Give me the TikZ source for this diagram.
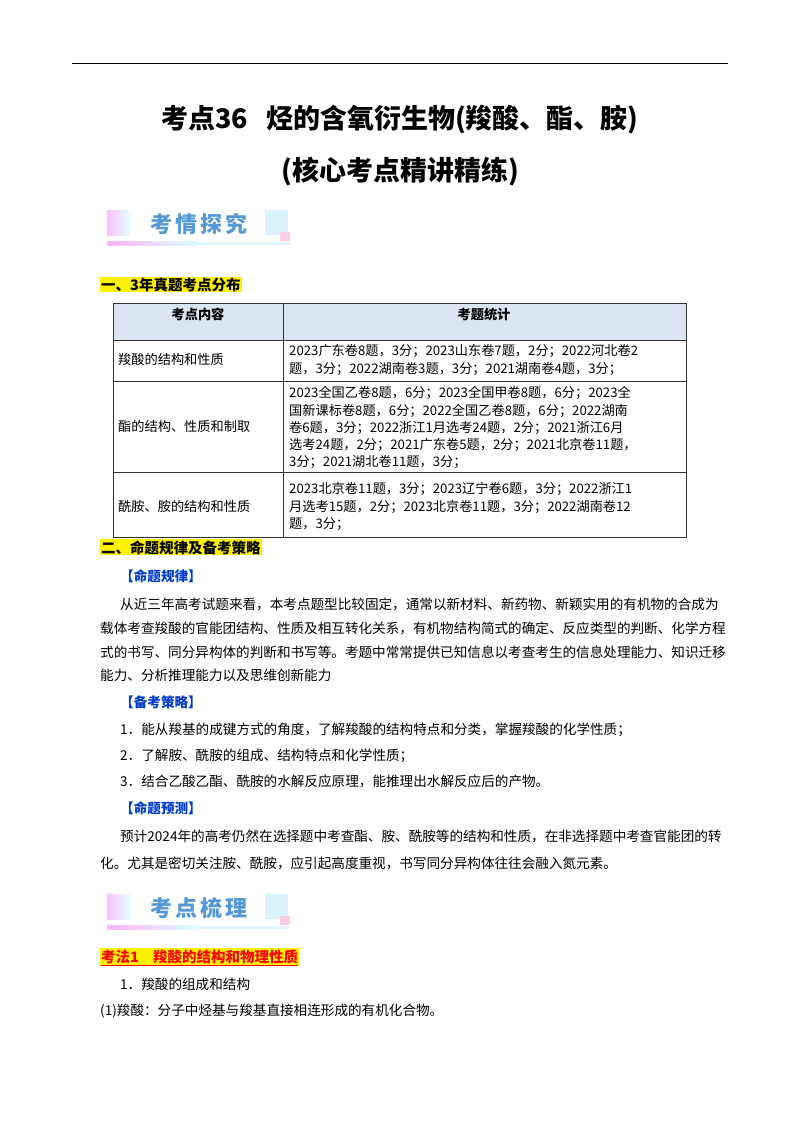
\documentclass[tikz,border=0pt]{standalone}
\usepackage{fontspec}
\setmainfont{Noto Sans CJK SC}
\definecolor{hdr}{HTML}{DBE5F1}
\begin{document}
\begin{tikzpicture}[x=1pt,y=-1pt,
  body/.style={anchor=base west,inner sep=0pt,font=\fontsize{13.6}{16}\selectfont},
  tb/.style={anchor=base west,inner sep=0pt,font=\fontsize{13.2}{15}\selectfont},
  hl/.style={anchor=base west,inner sep=1pt,fill=yellow,font=\bfseries\fontsize{14.5}{16}\selectfont},
  blue/.style={anchor=base west,inner sep=0pt,text=blue!70!cyan!80!black,font=\bfseries\fontsize{13.6}{16}\selectfont},
  bantext/.style={anchor=west,inner sep=0pt,text=cyan!60!blue!70,font=\bfseries\fontsize{22}{24}\selectfont},
  grid/.style={draw=black!80,line width=0.7pt}]
\useasboundingbox[fill=white] (0,0) rectangle (800,1132);
\draw[line width=1pt] (72,64) -- (728,64);
\node[inner sep=0pt,font=\bfseries\fontsize{27}{30}\selectfont] (t1) at (400,120) {考点36\hspace{18pt}烃的含氧衍生物(羧酸、酯、胺)};
\node[inner sep=0pt,font=\bfseries\fontsize{27}{30}\selectfont] (t2) at (400,172) {(核心考点精讲精练)};
% banners
\foreach \y/\t/\n in {210/考\hspace{3pt}情\hspace{3pt}探\hspace{3pt}究/b1, 894/考\hspace{3pt}点\hspace{3pt}梳\hspace{3pt}理/b2}{
  \shade[left color=magenta!25,right color=cyan!12] (107,\y) rectangle ++(23,25);
  \fill[cyan!15] (265,\y) rectangle ++(23,25);
  \fill[magenta!20] (280,\y+22) rectangle ++(10,9);
  \shade[left color=magenta!30,right color=cyan!15] (107,\y+31) rectangle ++(90,4);
  \fill[cyan!12] (197,\y+32) rectangle ++(93,3);
  \node[bantext] (\n) at (150,\y+14) {\t};
}
\node[hl] (h1) at (100,290) {一、3年真题考点分布};
% table
\fill[hdr] (113,303) rectangle (686,340);
\draw[grid] (113,303) rectangle (686,537);
\draw[grid] (283,303) -- (283,537);
\foreach \y in {340,381,472} \draw[grid] (113,\y) -- (686,\y);
\node[tb,font=\bfseries\fontsize{13.2}{15}\selectfont,anchor=base] (c1) at (198,319) {考点内容};
\node[tb,font=\bfseries\fontsize{13.2}{15}\selectfont,anchor=base] (c2) at (484,319) {考题统计};
\node[tb] (r1) at (118,364) {羧酸的结构和性质};
\node[tb] (r2) at (118,431) {酯的结构、性质和制取};
\node[tb] (r3) at (118,511) {酰胺、胺的结构和性质};
\node[tb] (a1) at (289,355) {2023广东卷8题，3分；2023山东卷7题，2分；2022河北卷2};
\node[tb] (a2) at (289,373) {题，3分；2022湖南卷3题，3分；2021湖南卷4题，3分；};
\node[tb] (b1l) at (289,397) {2023全国乙卷8题，6分；2023全国甲卷8题，6分；2023全};
\node[tb] (b2l) at (289,415) {国新课标卷8题，6分；2022全国乙卷8题，6分；2022湖南};
\node[tb] (b3l) at (289,432) {卷6题，3分；2022浙江1月选考24题，2分；2021浙江6月};
\node[tb] (b4l) at (289,449) {选考24题，2分；2021广东卷5题，2分；2021北京卷11题，};
\node[tb] (b5l) at (289,466) {3分；2021湖北卷11题，3分；};
\node[tb] (d1) at (289,493) {2023北京卷11题，3分；2023辽宁卷6题，3分；2022浙江1};
\node[tb] (d2) at (289,511) {月选考15题，2分；2023北京卷11题，3分；2022湖南卷12};
\node[tb] (d3) at (289,528) {题，3分；};
\node[hl] (h2) at (100,553) {二、命题规律及备考策略};
\node[blue] (k1) at (120,581) {【命题规律】};
\node[body] (p1) at (120,609) {从近三年高考试题来看，本考点题型比较固定，通常以新材料、新药物、新颖实用的有机物的合成为};
\node[body] (p2) at (100,633) {载体考查羧酸的官能团结构、性质及相互转化关系，有机物结构简式的确定、反应类型的判断、化学方程};
\node[body] (p3) at (100,657) {式的书写、同分异构体的判断和书写等。考题中常常提供已知信息以考查考生的信息处理能力、知识迁移};
\node[body] (p4) at (100,680) {能力、分析推理能力以及思维创新能力};
\node[blue] (k2) at (120,707) {【备考策略】};
\node[body] (s1) at (120,734) {1．能从羧基的成键方式的角度，了解羧酸的结构特点和分类，掌握羧酸的化学性质；};
\node[body] (s2) at (120,760) {2．了解胺、酰胺的组成、结构特点和化学性质；};
\node[body] (s3) at (120,786) {3．结合乙酸乙酯、酰胺的水解反应原理，能推理出水解反应后的产物。};
\node[blue] (k3) at (120,813) {【命题预测】};
\node[body] (q1) at (120,841) {预计2024年的高考仍然在选择题中考查酯、胺、酰胺等的结构和性质，在非选择题中考查官能团的转};
\node[body] (q2) at (100,868) {化。尤其是密切关注胺、酰胺，应引起高度重视，书写同分异构体往往会融入氮元素。};
\node[hl,text=red] (h3) at (100,962) {\underline{考法1\hspace{14pt}羧酸的结构和物理性质}};
\node[body] (m1) at (120,989) {1．羧酸的组成和结构};
\node[body] (m2) at (100,1015) {(1)羧酸：分子中烃基与羧基直接相连形成的有机化合物。};
\end{tikzpicture}
\end{document}
